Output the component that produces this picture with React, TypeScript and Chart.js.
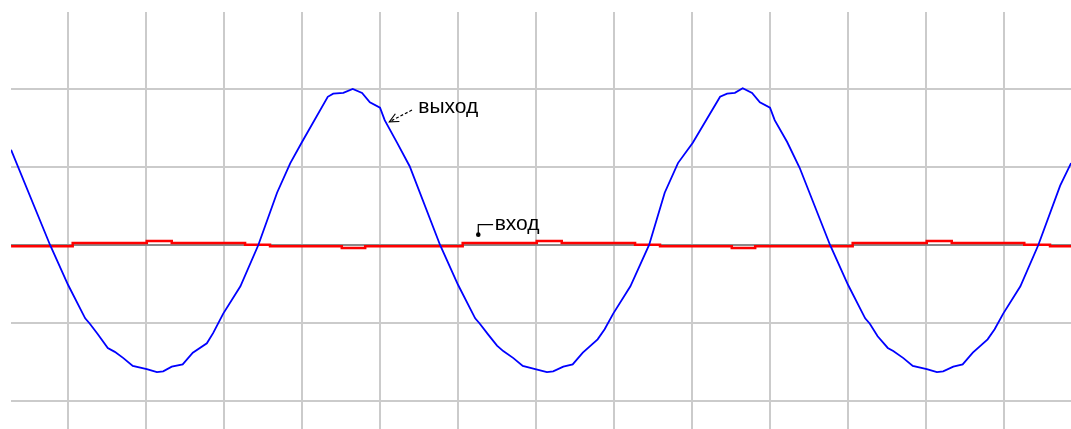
import React, { useEffect, useRef } from 'react';
import { Chart, registerables } from 'chart.js';

Chart.register(...registerables);

// grid divisions (one division per grid cell)
const xGridTicks = [1, 2, 3, 4, 5, 6, 7, 8, 9, 10, 11, 12, 13];
const yGridTicks = [-2, -1, 0, 1, 2];

// output signal ("выход"), blue
const outputX = [
  0.27, 0.77, 1.0, 1.22, 1.28, 1.38, 1.51, 1.6, 1.71, 1.83, 2.01, 2.14, 2.22, 2.33, 2.47, 2.6, 2.78, 2.86, 2.99, 3.21,
  3.44, 3.68, 3.85, 4.0, 4.33, 4.4, 4.53, 4.65, 4.77, 4.87, 5.0, 5.06, 5.22, 5.38, 5.77, 6.0, 6.22, 6.28, 6.38, 6.5,
  6.58, 6.71, 6.83, 6.99, 7.14, 7.22, 7.35, 7.47, 7.6, 7.79, 7.88, 7.99, 8.21, 8.45, 8.65, 8.82, 9.01, 9.36, 9.45, 9.55,
  9.65, 9.77, 9.87, 10.0, 10.06, 10.22, 10.38, 10.77, 11.0, 11.22, 11.28, 11.38, 11.51, 11.58, 11.71, 11.83, 12.01, 12.14, 12.22, 12.35,
  12.47, 12.6, 12.79, 12.88, 12.99, 13.21, 13.44, 13.72, 13.86,
];
const outputY = [
  1.22, 0.0, -0.51, -0.94, -1.01, -1.14, -1.32, -1.37, -1.45, -1.55, -1.59, -1.63, -1.62, -1.56, -1.53, -1.38, -1.26, -1.13, -0.88, -0.53,
  0.0, 0.67, 1.05, 1.32, 1.9, 1.94, 1.95, 2.0, 1.95, 1.83, 1.76, 1.6, 1.31, 1.01, 0.0, -0.51, -0.94, -1.01, -1.14, -1.29,
  -1.36, -1.45, -1.55, -1.59, -1.63, -1.62, -1.56, -1.53, -1.38, -1.21, -1.08, -0.88, -0.53, 0.0, 0.67, 1.05, 1.31, 1.9, 1.94, 1.95,
  2.01, 1.95, 1.83, 1.76, 1.6, 1.32, 0.99, 0.0, -0.51, -0.94, -1.01, -1.17, -1.32, -1.36, -1.45, -1.55, -1.59, -1.63, -1.62, -1.56,
  -1.53, -1.38, -1.21, -1.08, -0.88, -0.53, 0.0, 0.76, 1.05,
];

// input signal ("вход"), red, stepped
const inputX = [0.27, 1.06, 2.01, 2.33, 3.27, 3.59, 4.51, 4.81, 6.06, 7.01, 7.33, 8.27, 8.59, 9.51, 9.81, 11.06, 12.01, 12.33, 13.26, 13.59, 13.86];
const inputY = [-0.015, 0.026, 0.051, 0.026, 0.004, -0.017, -0.038, -0.017, 0.026, 0.051, 0.026, 0.004, -0.017, -0.038, -0.017, 0.026, 0.051, 0.026, 0.004, -0.017, -0.017];

// annotations
const labelTexts = ['выход', 'вход'];
const labelX = [5.49, 6.47];
const labelY = [1.69, 0.19];
const outArrowX = [5.41, 5.12];
const outArrowY = [1.73, 1.58];
const inArrowX = [6.45, 6.26, 6.26];
const inArrowY = [0.26, 0.26, 0.12];

export default function App() {
  const ref = useRef<HTMLCanvasElement>(null);

  useEffect(() => {
    if (!ref.current) return;

    const annot = {
      id: 'annot',
      afterDatasetsDraw(chart: any) {
        const { ctx, scales } = chart;
        const xs = scales.x;
        const ys = scales.y;
        ctx.save();
        ctx.fillStyle = '#000';
        ctx.strokeStyle = '#000';
        ctx.font = '21px "Liberation Sans", Arial, sans-serif';
        ctx.textBaseline = 'alphabetic';
        ctx.textAlign = 'left';
        labelTexts.forEach((t, i) => {
          ctx.fillText(t, xs.getPixelForValue(labelX[i]), ys.getPixelForValue(labelY[i]));
        });

        // dashed arrow for output
        const tx = xs.getPixelForValue(outArrowX[0]);
        const ty = ys.getPixelForValue(outArrowY[0]);
        const hx = xs.getPixelForValue(outArrowX[1]);
        const hy = ys.getPixelForValue(outArrowY[1]);
        ctx.lineWidth = 1.2;
        ctx.setLineDash([3, 2]);
        ctx.beginPath();
        ctx.moveTo(tx, ty);
        ctx.lineTo(hx, hy);
        ctx.stroke();
        ctx.setLineDash([]);
        const ang = Math.atan2(ty - hy, tx - hx);
        const L = 10;
        ctx.beginPath();
        ctx.moveTo(hx + L * Math.cos(ang - 0.45), hy + L * Math.sin(ang - 0.45));
        ctx.lineTo(hx, hy);
        ctx.lineTo(hx + L * Math.cos(ang + 0.45), hy + L * Math.sin(ang + 0.45));
        ctx.stroke();

        // bent arrow for input
        ctx.beginPath();
        inArrowX.forEach((v, i) => {
          const px = xs.getPixelForValue(v);
          const py = ys.getPixelForValue(inArrowY[i]);
          if (i === 0) ctx.moveTo(px, py);
          else ctx.lineTo(px, py);
        });
        ctx.stroke();
        const ex = xs.getPixelForValue(inArrowX[2]);
        const ey = ys.getPixelForValue(inArrowY[2]);
        ctx.beginPath();
        ctx.arc(ex, ey - 1, 2.3, 0, Math.PI * 2);
        ctx.fill();
        ctx.restore();
      },
    };

    const gridColor = (c: any) => (c.tick && c.tick.value === 0 ? '#8a8a8a' : '#cbcbcb');

    const chart = new Chart(ref.current, {
      type: 'line',
      data: {
        datasets: [
          {
            label: 'выход',
            data: outputX.map((x, i) => ({ x, y: outputY[i] })),
            borderColor: '#0000ff',
            borderWidth: 1.8,
            pointRadius: 0,
            tension: 0,
            fill: false,
          },
          {
            label: 'вход',
            data: inputX.map((x, i) => ({ x, y: inputY[i] })),
            borderColor: '#ff0000',
            borderWidth: 2.5,
            pointRadius: 0,
            stepped: true,
            fill: false,
          },
        ],
      },
      options: {
        responsive: false,
        animation: false,
        layout: { padding: { left: 11, top: 12, right: 0, bottom: 0 } },
        plugins: { legend: { display: false }, tooltip: { enabled: false } },
        scales: {
          x: {
            type: 'linear',
            min: 0.269,
            max: 13.859,
            afterBuildTicks: (s: any) => {
              s.ticks = xGridTicks.map((v) => ({ value: v }));
            },
            ticks: { display: false },
            grid: { color: '#cbcbcb', lineWidth: 2, drawTicks: false },
            border: { display: false },
          },
          y: {
            type: 'linear',
            min: -2.359,
            max: 2.987,
            afterBuildTicks: (s: any) => {
              s.ticks = yGridTicks.map((v) => ({ value: v }));
            },
            ticks: { display: false },
            grid: { color: gridColor, lineWidth: 2, drawTicks: false },
            border: { display: false },
          },
        },
      },
      plugins: [annot],
    });

    return () => chart.destroy();
  }, []);

  return (
    <div style={{ position: 'absolute', left: 0, top: 0, width: 1071, height: 429, background: '#fff' }}>
      <canvas ref={ref} width={1071} height={429} style={{ display: 'block' }} />
    </div>
  );
}
